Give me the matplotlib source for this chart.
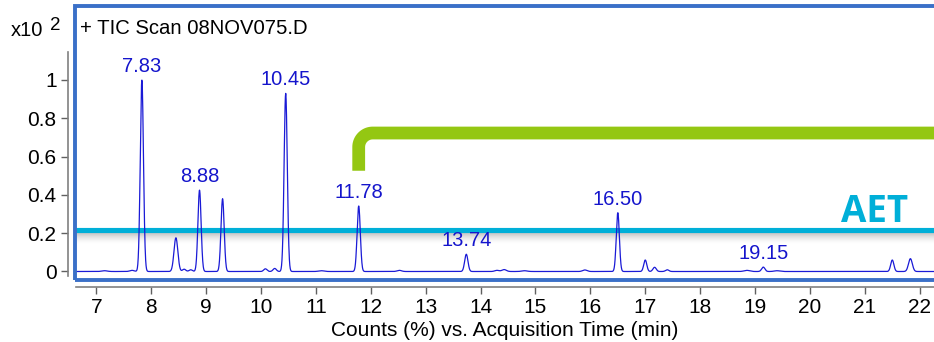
import numpy as np
import matplotlib.pyplot as plt
from matplotlib.patches import Rectangle
from matplotlib.path import Path
from matplotlib.patches import PathPatch

# peak table (retention time in min, height in x10^2 counts %)
peak_rt = [7.15, 7.65, 7.83, 8.45, 8.60, 8.72, 8.88, 9.30, 10.08, 10.25, 10.45,
           11.10, 11.78, 12.52, 13.74, 14.30, 14.43, 14.80, 15.90, 16.50, 17.00,
           17.17, 17.40, 18.85, 19.15, 19.40, 21.50, 21.83]
peak_height = [0.004, 0.006, 1.00, 0.176, 0.012, 0.009, 0.425, 0.38, 0.014, 0.016, 0.93,
               0.004, 0.342, 0.006, 0.09, 0.006, 0.010, 0.004, 0.008, 0.307, 0.06,
               0.022, 0.009, 0.006, 0.023, 0.004, 0.06, 0.067]
peak_width = [0.05, 0.04, 0.029, 0.035, 0.03, 0.03, 0.029, 0.029, 0.03, 0.03, 0.029,
              0.05, 0.029, 0.04, 0.03, 0.04, 0.04, 0.05, 0.04, 0.028, 0.028,
              0.03, 0.03, 0.05, 0.03, 0.05, 0.029, 0.035]

# labelled peaks
label_rt = [7.83, 8.88, 10.45, 11.78, 13.74, 16.50, 19.15]

aet_level = 0.217
bracket_level = 0.723
bracket_bottom = 0.526

x_min, x_max = 6.63, 22.26
y_min, y_max = -0.0235, 1.146

W, H = 934, 342
fig = plt.figure(figsize=(W / 100, H / 100), dpi=100)
plt.rcParams['font.family'] = ['Liberation Sans', 'DejaVu Sans']

# axes box in pixels: left 76, right 934, top 52, bottom 276
ax = fig.add_axes([76 / W, (H - 276) / H, (W - 76) / W, (276 - 52) / H])
ax.set_xlim(x_min, x_max)
ax.set_ylim(y_min, y_max)

t = np.linspace(x_min, x_max, 6000)
sig = np.zeros_like(t)
for rt, h, w in zip(peak_rt, peak_height, peak_width):
    sig += h * np.exp(-0.5 * ((t - rt) / w) ** 2)
ax.plot(t, sig, color='#1a1ad6', lw=0.9, zorder=5)

lookup = dict(zip(peak_rt, peak_height))
for rt in label_rt:
    ax.annotate('%.2f' % rt, (rt, lookup[rt]), xytext=(0, 3), textcoords='offset points',
                ha='center', va='bottom', color='#1515cc', fontsize=14.5, zorder=6)

# AET threshold line with a soft shadow underneath
grad = np.zeros((40, 1, 4))
grad[..., :3] = 0.55
grad[:, 0, 3] = np.linspace(0.8, 0.0, 40) ** 1.5
ax.imshow(grad, extent=[x_min, x_max, aet_level - 0.072, aet_level], aspect='auto',
          origin='upper', zorder=2, interpolation='bilinear')
ax.axhline(aet_level, color='#00afd8', lw=3.7, zorder=3)
ax.text(0.931, aet_level + 0.043, 'AET', transform=ax.get_yaxis_transform(),
        color='#00afd8', fontsize=26.5, fontweight='bold', family='Open Sans',
        ha='center', va='baseline')

# green bracket starting at the 11.78 peak
rx, ry = 0.255, 0.073
x0 = label_rt[3]
ang = np.linspace(np.pi, np.pi / 2, 20)
arc = np.column_stack([x0 + rx + rx * np.cos(ang), bracket_level - ry + ry * np.sin(ang)])
verts = np.vstack([[x0, bracket_bottom], arc, [x_max + 1, bracket_level]])
ax.add_patch(PathPatch(Path(verts), fill=False, edgecolor='#94c712', lw=9.2,
                       capstyle='butt', joinstyle='round', zorder=4, clip_on=False))
ax.set_xlim(x_min, x_max)
ax.set_ylim(y_min, y_max)

for s in ['top', 'right']:
    ax.spines[s].set_visible(False)
ax.spines['left'].set_position(('outward', 6))
ax.spines['bottom'].set_position(('outward', 8))
for s in ['left', 'bottom']:
    ax.spines[s].set_color('#808080')
    ax.spines[s].set_linewidth(1.2)
ax.set_xticks(range(7, 23))
ax.set_yticks([0, 0.2, 0.4, 0.6, 0.8, 1.0])
ax.set_yticklabels(['0', '0.2', '0.4', '0.6', '0.8', '1'])
ax.tick_params(direction='out', length=5, width=1, color='#606060', labelsize=15, pad=3)
ax.set_xlabel('Counts (%) vs. Acquisition Time (min)', fontsize=15, labelpad=3)

# instrument-style frame around the plot
fig.patches.append(Rectangle((74.5 / W, (H - 280) / H), 1.2, (280 - 5.5) / H,
                             transform=fig.transFigure, fill=False, edgecolor='#3a70c8',
                             lw=2.8, zorder=10))
fig.text(80 / W, 1 - 28 / H, '+ TIC Scan 08NOV075.D', fontsize=14.6, va='center')
fig.text(11 / W, 1 - 31 / H, 'x10', fontsize=14.5, va='center')
fig.text(50 / W, 1 - 25 / H, '2', fontsize=13.5, va='center')

fig.savefig('out.png', dpi=100)
